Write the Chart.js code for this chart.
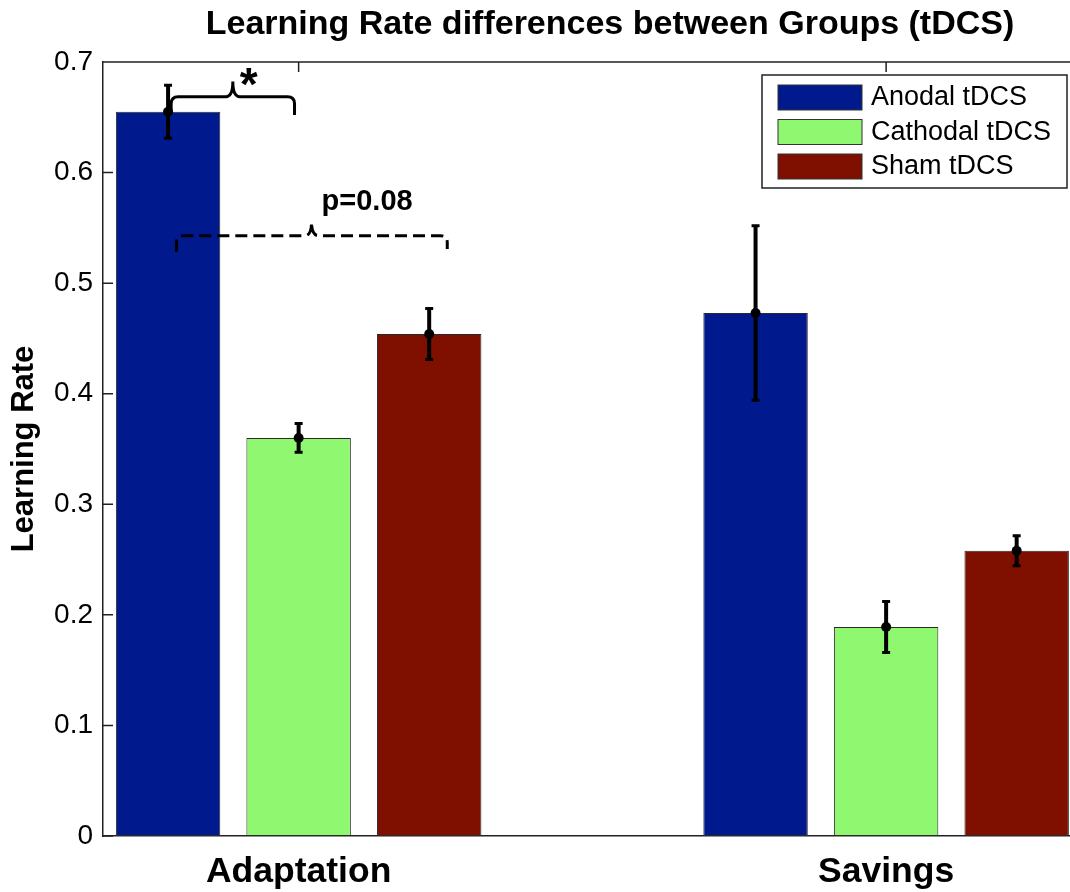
<!DOCTYPE html>
<html>
<head>
<meta charset="utf-8">
<title>Learning Rate differences between Groups (tDCS)</title>
<script src="https://cdn.jsdelivr.net/npm/chart.js@4.4.1/dist/chart.umd.min.js"></script>
<style>
    html, body { margin: 0; padding: 0; background: #fff; overflow: hidden; }
</style>
</head>
<body>
<canvas id="barChart" width="1070" height="892"></canvas>
<script>
// values
var categories = ['Adaptation', 'Savings'];
var groupNames = ['Anodal tDCS', 'Cathodal tDCS', 'Sham tDCS'];
var anodalRate = [0.655, 0.473];
var cathodalRate = [0.360, 0.189];
var shamRate = [0.454, 0.258];
var anodalErr = [0.024, 0.079];
var cathodalErr = [0.013, 0.023];
var shamErr = [0.023, 0.0135];
var yTicks = [0, 0.1, 0.2, 0.3, 0.4, 0.5, 0.6, 0.7];

var FONT = '"Liberation Sans", Arial, Helvetica, sans-serif';

// significance brackets, in data units
var starBracket = { x1: 0.783, x2: 0.993, xm: 0.888, y: 0.6686, y1: 0.655, y2: 0.652, peak: 0.6823, text: '*', tx: 0.915, ty: 0.666 };
var pBracket = { x1: 0.792, x2: 1.253, xm: 1.022, y: 0.5429, y1: 0.5284, y2: 0.5309, peak: 0.5554, text: 'p=0.08', tx: 1.039, ty: 0.5662 };

function toPoints(values) {
    return values.map(function (v, i) { return { x: i + 1, y: v }; });
}

var frameTicks = {
    id: 'frameTicks',
    beforeDatasetsDraw: function (chart) {
        var ctx = chart.ctx, a = chart.chartArea;
        var x = chart.scales.x, y = chart.scales.y;
        ctx.save();
        ctx.strokeStyle = '#222';
        ctx.lineWidth = 1.5;
        ctx.beginPath();
        ctx.moveTo(a.left, a.top);
        ctx.lineTo(a.right, a.top);
        y.ticks.forEach(function (t) {
            var py = y.getPixelForValue(t.value);
            ctx.moveTo(a.left, py);
            ctx.lineTo(a.left + 10, py);
        });
        x.ticks.forEach(function (t) {
            var px = x.getPixelForValue(t.value);
            ctx.moveTo(px, a.top);
            ctx.lineTo(px, a.top + 10);
            ctx.moveTo(px, a.bottom);
            ctx.lineTo(px, a.bottom - 10);
        });
        ctx.stroke();
        ctx.restore();
    }
};

function drawBracket(ctx, xs, ys, b, dashed) {
    var x1 = xs.getPixelForValue(b.x1), x2 = xs.getPixelForValue(b.x2), xm = xs.getPixelForValue(b.xm);
    var yl = ys.getPixelForValue(b.y), y1 = ys.getPixelForValue(b.y1), y2 = ys.getPixelForValue(b.y2);
    var yp = ys.getPixelForValue(b.peak);
    var r = 7;
    ctx.save();
    ctx.strokeStyle = '#000';
    ctx.lineWidth = 3;
    ctx.lineCap = 'butt';
    if (dashed) ctx.setLineDash([12, 6]);
    ctx.beginPath();
    ctx.moveTo(x1, y1);
    ctx.lineTo(x1, yl + r);
    ctx.quadraticCurveTo(x1, yl, x1 + r, yl);
    ctx.lineTo(xm - r, yl);
    ctx.quadraticCurveTo(xm, yl, xm, yp);
    ctx.quadraticCurveTo(xm, yl, xm + r, yl);
    ctx.lineTo(x2 - r, yl);
    ctx.quadraticCurveTo(x2, yl, x2, yl + r);
    ctx.lineTo(x2, y2);
    ctx.stroke();
    ctx.restore();
}

var errorBars = {
    id: 'errorBars',
    afterDatasetsDraw: function (chart) {
        var ctx = chart.ctx, ys = chart.scales.y, xs = chart.scales.x;
        chart.data.datasets.forEach(function (ds, di) {
            var meta = chart.getDatasetMeta(di);
            meta.data.forEach(function (bar, i) {
                var v = ds.data[i].y, e = ds.errors[i];
                var top = ys.getPixelForValue(v + e);
                var bot = ys.getPixelForValue(v - e);
                var mid = ys.getPixelForValue(v);
                ctx.save();
                ctx.strokeStyle = '#000';
                ctx.fillStyle = '#000';
                ctx.lineWidth = 4;
                ctx.beginPath();
                ctx.moveTo(bar.x, top);
                ctx.lineTo(bar.x, bot);
                ctx.stroke();
                ctx.lineWidth = 3;
                ctx.beginPath();
                ctx.moveTo(bar.x - 4, top);
                ctx.lineTo(bar.x + 4, top);
                ctx.moveTo(bar.x - 4, bot);
                ctx.lineTo(bar.x + 4, bot);
                ctx.stroke();
                ctx.beginPath();
                ctx.arc(bar.x, mid, 5, 0, Math.PI * 2);
                ctx.fill();
                ctx.restore();
            });
        });

        drawBracket(ctx, xs, ys, starBracket, false);
        drawBracket(ctx, xs, ys, pBracket, true);
        ctx.save();
        ctx.fillStyle = '#000';
        ctx.textBaseline = 'alphabetic';
        ctx.textAlign = 'center';
        ctx.font = 'bold 46px ' + FONT;
        ctx.fillText(starBracket.text, xs.getPixelForValue(starBracket.tx), ys.getPixelForValue(starBracket.ty));
        ctx.textAlign = 'left';
        ctx.font = 'bold 29px ' + FONT;
        ctx.fillText(pBracket.text, xs.getPixelForValue(pBracket.tx), ys.getPixelForValue(pBracket.ty));
        ctx.restore();
    }
};

var titleAndLegend = {
    id: 'titleAndLegend',
    afterDraw: function (chart) {
        var ctx = chart.ctx;
        ctx.save();
        ctx.fillStyle = '#000';
        ctx.font = 'bold 34px ' + FONT;
        ctx.textAlign = 'center';
        ctx.textBaseline = 'alphabetic';
        ctx.fillText('Learning Rate differences between Groups (tDCS)', 610, 34);

        // legend box
        var bx = 762, by = 75, bw = 305, bh = 113;
        ctx.fillStyle = '#fff';
        ctx.fillRect(bx, by, bw, bh);
        ctx.strokeStyle = '#222';
        ctx.lineWidth = 1.5;
        ctx.strokeRect(bx, by, bw, bh);
        ctx.font = '27px ' + FONT;
        ctx.textAlign = 'left';
        ctx.textBaseline = 'middle';
        chart.data.datasets.forEach(function (ds, i) {
            var sy = by + 10 + i * 34.5;
            ctx.fillStyle = ds.backgroundColor;
            ctx.fillRect(bx + 16, sy, 84, 25);
            ctx.strokeStyle = '#333';
            ctx.lineWidth = 1;
            ctx.strokeRect(bx + 16, sy, 84, 25);
            ctx.fillStyle = '#000';
            ctx.fillText(ds.label, bx + 109, sy + 13);
        });
        ctx.restore();
    }
};

var barColors = ['#00198c', '#90f870', '#7f1000'];
var rates = [anodalRate, cathodalRate, shamRate];
var errs = [anodalErr, cathodalErr, shamErr];

var datasets = groupNames.map(function (name, i) {
    return {
        label: name,
        data: toPoints(rates[i]),
        errors: errs[i],
        backgroundColor: barColors[i],
        borderColor: '#2a2a2a',
        borderWidth: 1,
        borderSkipped: false,
        categoryPercentage: 2 / 3,
        barPercentage: 0.8
    };
});

var chart = new Chart(document.getElementById('barChart').getContext('2d'), {
    type: 'bar',
    data: { datasets: datasets },
    options: {
        responsive: false,
        animation: false,
        devicePixelRatio: 1,
        layout: { padding: { top: 62, left: 0, right: 0, bottom: 0 } },
        plugins: {
            legend: { display: false },
            title: { display: false },
            tooltip: { enabled: false }
        },
        scales: {
            x: {
                type: 'linear',
                min: 0.667,
                max: 2.313,
                offset: false,
                afterBuildTicks: function (scale) {
                    scale.ticks = categories.map(function (c, i) { return { value: i + 1 }; });
                },
                afterFit: function (scale) { scale.height = 56; },
                grid: { display: false, drawTicks: false },
                border: { display: true, color: '#222', width: 1.5 },
                ticks: {
                    padding: 15,
                    color: '#000',
                    maxRotation: 0,
                    autoSkip: false,
                    font: { family: FONT, size: 35.5, weight: 'bold' },
                    callback: function (v) { return categories[v - 1]; }
                }
            },
            y: {
                min: 0,
                max: 0.7,
                afterBuildTicks: function (scale) {
                    scale.ticks = yTicks.map(function (v) { return { value: v }; });
                },
                afterFit: function (scale) { scale.width = 103; },
                grid: { display: false, drawTicks: false },
                border: { display: true, color: '#222', width: 1.5 },
                ticks: {
                    padding: 10,
                    color: '#000',
                    font: { family: FONT, size: 28 },
                    callback: function (v) { return String(Math.round(v * 10) / 10); }
                },
                title: {
                    display: true,
                    text: 'Learning Rate',
                    color: '#000',
                    font: { family: FONT, size: 31, weight: 'bold' },
                    padding: { top: 6, bottom: 0 }
                }
            }
        }
    },
    plugins: [frameTicks, errorBars, titleAndLegend]
});
</script>
</body>
</html>
